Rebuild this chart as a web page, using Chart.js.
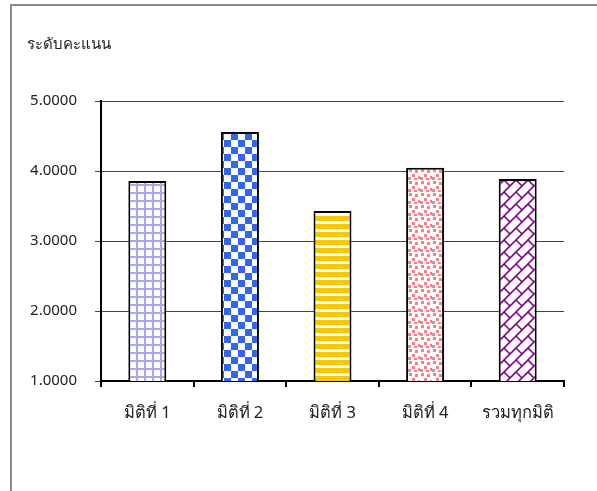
<!DOCTYPE html>
<html lang="th">
  <head>
    <meta charset="UTF-8">
    <title>ระดับคะแนน</title>
    <script src="https://cdn.jsdelivr.net/npm/chart.js@4"></script>
    <style>
      html, body { margin: 0; padding: 0; background: #fff; }
      #wrap { position: relative; width: 597px; height: 491px; overflow: hidden; }
      #frame { position: absolute; left: 10px; top: 4px; width: 600px; height: 500px;
               border-left: 2px solid #8a8a8a; border-top: 2px solid #8a8a8a; }
      #chart { position: absolute; left: 0; top: 0; }
    </style>
  </head>
  <body>
  <div id="wrap">
    <div id="frame"></div>
    <canvas id="chart" width="597" height="491"></canvas>
  </div>
    <script>
    // data
    const categories = ['มิติที่ 1', 'มิติที่ 2', 'มิติที่ 3', 'มิติที่ 4', 'รวมทุกมิติ'];
    const scores = [3.857, 4.557, 3.429, 4.047, 3.886];
    const yTicks = [1, 2, 3, 4, 5];
    const axisTitle = 'ระดับคะแนน';

    function tile(w, h, draw) {
      const c = document.createElement('canvas');
      c.width = w; c.height = h;
      const g = c.getContext('2d');
      g.fillStyle = '#fff';
      g.fillRect(0, 0, w, h);
      draw(g);
      return document.getElementById('chart').getContext('2d').createPattern(c, 'repeat');
    }

    // small grid
    const gridPat = tile(8, 8, g => {
      g.fillStyle = '#aaa6f4';
      g.fillRect(0, 0, 8, 2);
      g.fillRect(0, 0, 2, 8);
    });
    // checker board
    const checkPat = tile(14, 14, g => {
      g.fillStyle = '#3366f0';
      g.fillRect(0, 0, 7, 7);
      g.fillRect(7, 7, 7, 7);
    });
    // horizontal stripes
    const stripePat = tile(8, 8, g => {
      g.fillStyle = '#f7c800';
      g.fillRect(0, 0, 8, 5);
    });
    // confetti dots
    const dotPat = tile(12, 12, g => {
      g.fillStyle = '#f2838a';
      [[1, 1], [7, 2], [4, 6], [10, 8], [0, 9], [6, 10]].forEach(p => g.fillRect(p[0], p[1], 3, 3));
    });
    // diagonal brick / trellis
    const s = 12;
    const brickPat = tile(2 * s, 2 * s, g => {
      g.strokeStyle = '#7d0a84';
      g.lineWidth = 1.6;
      for (let k = -2; k <= 6; k++) {
        g.beginPath();
        g.moveTo(k * s + 10, -10);
        g.lineTo(k * s - 10 - 2 * s, 2 * s + 10);
        g.stroke();
        const c0 = (k % 2 === 0) ? 0 : s;
        for (let m = -4; m <= 4; m++) {
          const d = c0 + 2 * s * m;
          const a = k * s, b = (k + 1) * s;
          g.beginPath();
          g.moveTo((a + d) / 2, (a - d) / 2);
          g.lineTo((b + d) / 2, (b - d) / 2);
          g.stroke();
        }
      }
    });

    const font = 'Tahoma, "Noto Sans", "DejaVu Sans", sans-serif';
    Chart.defaults.font.family = font;
    Chart.defaults.font.size = 15;
    Chart.defaults.color = '#222';

    const ctx = document.getElementById('chart').getContext('2d');
    new Chart(ctx, {
      type: 'bar',
      data: {
        labels: categories,
        datasets: [{
          data: scores,
          backgroundColor: [gridPat, checkPat, stripePat, dotPat, brickPat],
          borderColor: '#000',
          borderWidth: 2,
          borderSkipped: false,
          barPercentage: 0.41,
          categoryPercentage: 1
        }]
      },
      options: {
        responsive: false,
        animation: false,
        layout: { padding: { left: 27, right: 33, top: 0, bottom: 0 } },
        plugins: {
          legend: { display: false },
          tooltip: { enabled: false },
          title: {
            display: true,
            text: axisTitle,
            align: 'start',
            color: '#222',
            font: { size: 15, weight: 'normal' },
            padding: { top: 36, bottom: 47 }
          }
        },
        scales: {
          x: {
            offset: true,
            afterFit: sc => { sc.height = 110; },
            grid: { offset: true, drawOnChartArea: false, tickLength: 6, color: '#000', lineWidth: 2 },
            border: { color: '#000', width: 2 },
            ticks: { padding: 16, color: '#222', font: { size: 16.5 } }
          },
          y: {
            min: yTicks[0],
            max: yTicks[yTicks.length - 1],
            afterFit: sc => { sc.width = 74; },
            afterBuildTicks: sc => { sc.ticks = yTicks.map(v => ({ value: v })); },
            grid: { color: '#444', lineWidth: 1, tickLength: 6 },
            border: { color: '#000', width: 2 },
            ticks: { padding: 18, color: '#222', callback: v => v.toFixed(4) }
          }
        }
      }
    });
    </script>
  </body>
</html>
